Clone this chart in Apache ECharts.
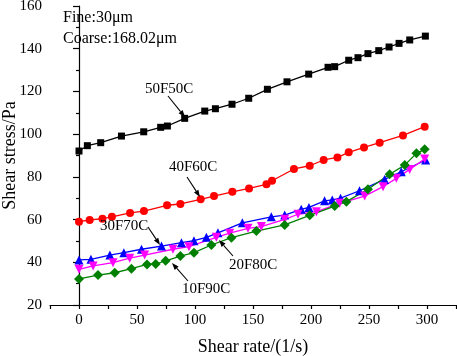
<!DOCTYPE html>
<html>
<head>
<meta charset="utf-8">
<script src="https://cdn.jsdelivr.net/npm/echarts@6/dist/echarts.min.js"></script>
<style>
  html, body { margin: 0; padding: 0; background: #fff; }
  #chart { width: 457px; height: 356px; }
</style>
</head>
<body>
<div id="chart"></div>
<script>
// Datos
const x50F50C = [0, 7.2, 18.7, 36.6, 55.8, 70.4, 76.2, 91.1, 108.4, 117.6, 131.9, 146.3, 162.4, 179.3, 198, 214.7, 220.4, 232.5, 240.5, 249.1, 258.4, 267.3, 275.9, 285.1, 298.6];
const y50F50C = [92.1, 94.6, 96, 99.1, 101.1, 103.2, 103.8, 107.4, 110.8, 111.9, 114, 116.8, 121, 124.5, 128.1, 131.3, 131.6, 134.6, 135.8, 137.7, 139.1, 140.8, 142.5, 144.1, 145.9];

const x40F60C = [0, 9.2, 20.2, 28.4, 44, 56, 75.9, 87.4, 104.9, 116.4, 132.2, 146.6, 161.6, 166.4, 185.3, 198.9, 210.9, 222.8, 232.5, 245.7, 259.2, 279.3, 298];
const y40F60C = [59, 59.8, 60.4, 61.3, 63.1, 64, 66.7, 67.3, 69.5, 71, 73, 74.6, 76.5, 78.2, 83.7, 85.2, 87.9, 89.1, 91.5, 93.8, 96, 99.4, 103.5];

const x30F70C = [0, 10.3, 26.6, 38.7, 53.9, 71.1, 88.3, 99.1, 109.8, 119.8, 140.8, 165.8, 177.3, 191.6, 198.2, 211.7, 218.3, 225.5, 241.8, 263.4, 277.8, 298.8];
const y30F70C = [41.1, 41.4, 43.4, 44.5, 46.1, 47.6, 49.2, 50.1, 51.7, 53.8, 58.5, 61.3, 62.1, 64.8, 65.7, 68.8, 69.2, 70, 73.5, 78.8, 82.4, 87.9];

const x20F80C = [0, 12.2, 29.3, 43.7, 56.6, 81, 94.8, 118.4, 129.9, 145.7, 157.2, 177.3, 188.8, 204.7, 224.7, 246.3, 262.1, 273.6, 285.1, 298];
const y20F80C = [36.7, 38.3, 39.8, 41.9, 43.4, 46.1, 47.3, 51.7, 53.6, 55.9, 56.7, 60.1, 62.5, 63.7, 67.6, 71, 75.4, 79.3, 83.5, 88.4];

const x10F90C = [0, 16.4, 30.8, 45.2, 58.6, 66.1, 74.7, 87.4, 99.1, 114.1, 131.4, 152.9, 177.3, 198.9, 220.4, 230.5, 249.1, 267.8, 280.8, 290.9, 298];
const y10F90C = [32.2, 34, 35.1, 37, 39, 39.2, 40.7, 42.9, 44.5, 48.1, 51.5, 54.6, 57.5, 62, 66.3, 68.4, 74.2, 81.2, 85.5, 91, 92.9];

const xTickLabels = [0, 50, 100, 150, 200, 250, 300];
const yTickLabels = [20, 40, 60, 80, 100, 120, 140, 160];

const FONT = 'Liberation Serif';

function pares(xs, ys) {
    return xs.map((x, i) => [x, ys[i]]);
}

function serie(name, xs, ys, color, symbol, size) {
    return {
        name: name,
        type: 'line',
        data: pares(xs, ys),
        symbol: symbol,
        symbolSize: size,
        showSymbol: true,
        lineStyle: { width: 1.3, color: color },
        itemStyle: { color: color },
        animation: false,
        z: 3
    };
}

// Flecha de anotación (línea + punta)
function flecha(x1, y1, x2, y2) {
    const dx = x2 - x1, dy = y2 - y1;
    const len = Math.sqrt(dx * dx + dy * dy);
    const ux = dx / len, uy = dy / len;
    const hl = 7, hw = 2.6;
    const bx = x2 - ux * hl, by = y2 - uy * hl;
    return [
        {
            type: 'line',
            shape: { x1: x1, y1: y1, x2: bx, y2: by },
            style: { stroke: '#000', lineWidth: 1.1 },
            z: 10
        },
        {
            type: 'polygon',
            shape: { points: [[x2, y2], [bx - uy * hw, by + ux * hw], [bx + uy * hw, by - ux * hw]] },
            style: { fill: '#000' },
            z: 10
        }
    ];
}

function texto(left, top, str, size) {
    return {
        type: 'text',
        left: left,
        top: top,
        style: { text: str, fontFamily: FONT, fontSize: size || 15, fill: '#000' },
        z: 10
    };
}

const chart = echarts.init(document.getElementById('chart'), null, { renderer: 'canvas' });

chart.setOption({
    backgroundColor: '#fff',
    animation: false,
    grid: { left: 50, right: 1, top: 6, bottom: 51, containLabel: false, outerBoundsMode: 'none' },
    xAxis: {
        type: 'value',
        min: -25,
        max: 325,
        interval: 25,
        name: 'Shear rate/(1/s)',
        nameLocation: 'middle',
        nameGap: 33,
        nameMoveOverlap: false,
        nameTextStyle: { fontFamily: FONT, fontSize: 18, color: '#000' },
        axisLine: { lineStyle: { color: '#000', width: 1.2 } },
        axisTick: { show: true, length: 4, lineStyle: { color: '#000', width: 1.2 } },
        axisLabel: {
            fontFamily: FONT, fontSize: 15, color: '#000', margin: 8,
            formatter: function (v) { return xTickLabels.indexOf(v) >= 0 ? String(v) : ''; }
        },
        splitLine: { show: false }
    },
    yAxis: {
        type: 'value',
        min: 20,
        max: 160,
        interval: 20,
        name: 'Shear stress/Pa',
        nameLocation: 'middle',
        nameGap: 31,
        nameMoveOverlap: false,
        nameTextStyle: { fontFamily: FONT, fontSize: 18, color: '#000' },
        axisLine: { show: true, lineStyle: { color: '#000', width: 1.2 } },
        axisTick: { show: true, length: 6, lineStyle: { color: '#000', width: 1.2 } },
        minorTick: { show: true, splitNumber: 2, length: 3, lineStyle: { color: '#000', width: 1.2 } },
        axisLabel: {
            fontFamily: FONT, fontSize: 15, color: '#000', margin: 8,
            formatter: function (v) { return yTickLabels.indexOf(v) >= 0 ? String(v) : ''; }
        },
        splitLine: { show: false }
    },
    series: [
        serie('50F50C', x50F50C, y50F50C, '#000000', 'rect', 7),
        serie('40F60C', x40F60C, y40F60C, '#ff0000', 'circle', 8),
        serie('30F70C', x30F70C, y30F70C, '#0000ff', 'triangle', 9),
        serie('20F80C', x20F80C, y20F80C, '#ff00ff', 'path://M0,0 L10,0 L5,9 Z', 9),
        serie('10F90C', x10F90C, y10F90C, '#008000', 'diamond', 10)
    ],
    graphic: [].concat(
        [
            texto(63, 10, 'Fine:30μm', 16),
            texto(63, 31, 'Coarse:168.02μm', 16),
            texto(145, 82, '50F50C'),
            texto(169, 160, '40F60C'),
            texto(100, 219, '30F70C'),
            texto(229, 258, '20F80C'),
            texto(182, 282, '10F90C')
        ],
        flecha(168, 96, 185, 117),
        flecha(187, 177, 200, 197),
        flecha(148, 227, 160, 245),
        flecha(233, 256, 219, 240),
        flecha(188, 281, 172, 263)
    )
});
</script>
</body>
</html>
